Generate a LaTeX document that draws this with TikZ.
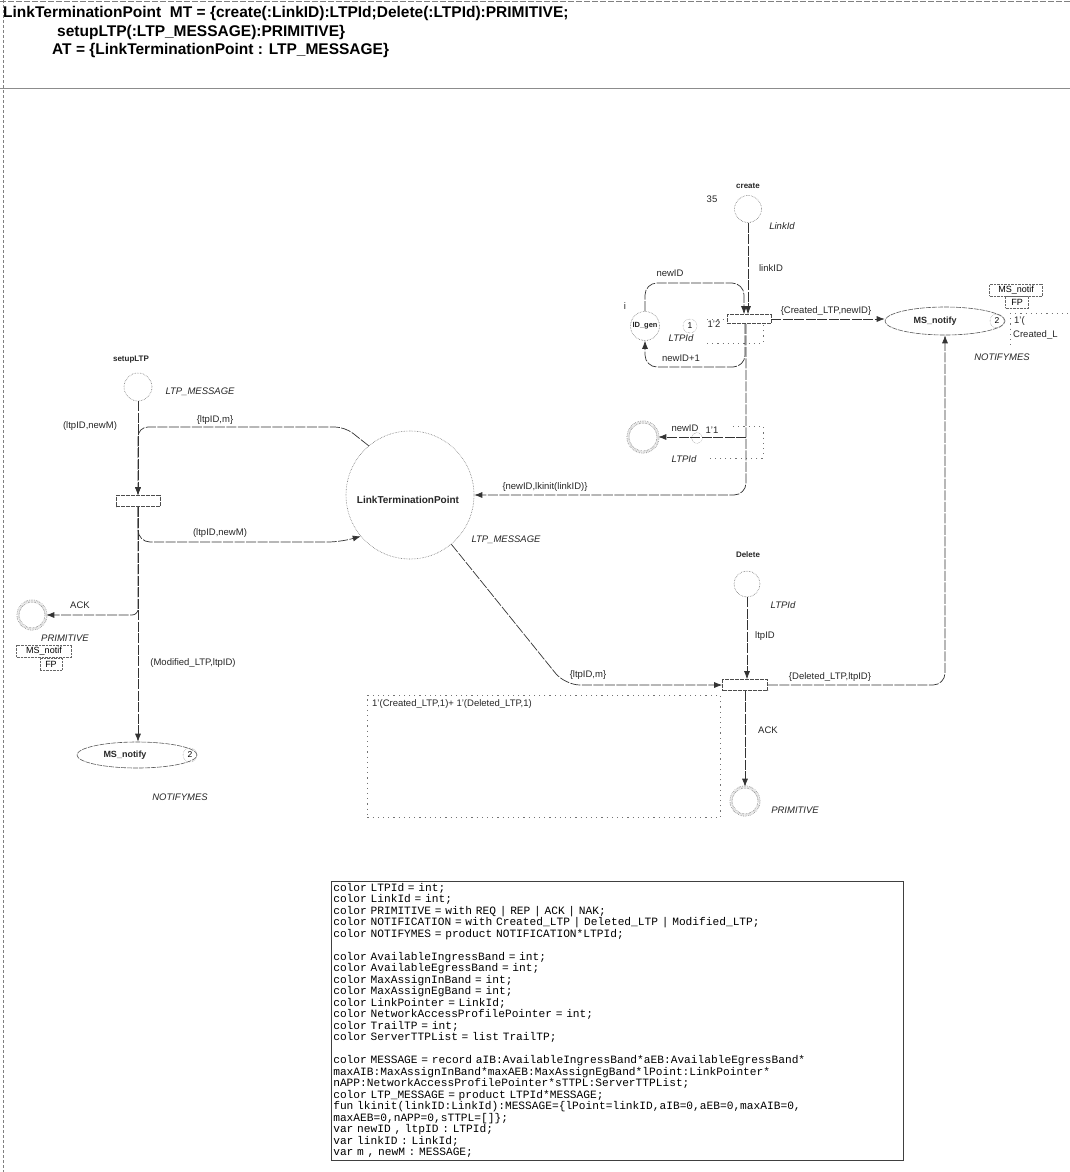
\documentclass[tikz,border=0pt]{standalone}
\usepackage{fontspec}
\setmainfont{Liberation Sans}
\setmonofont{Liberation Mono}
\usetikzlibrary{arrows.meta,shapes.geometric,calc}
\tikzset{
  lbl/.style={font=\fontsize{9.5}{10}\selectfont, inner sep=0pt, text=black!85},
  ilbl/.style={font=\fontsize{9.5}{10}\selectfont\itshape, inner sep=0pt, text=black!85},
  pname/.style={font=\fontsize{8}{9}\selectfont\bfseries, inner sep=0pt, text=black!85},
  hdr/.style={font=\fontsize{15.5}{18}\selectfont\bfseries, inner sep=0pt, anchor=west},
  place/.style={circle, draw=black!55, densely dotted, line width=0.6pt, inner sep=0pt},
  dplace/.style={place, double=white, double distance=1.6pt},
  oval/.style={ellipse, draw=black!65, dash pattern=on 5pt off 1pt, line width=0.6pt, inner sep=0pt, minimum width=120pt, minimum height=28pt},
  trans/.style={rectangle, draw=black!70, dash pattern=on 4pt off 1pt, line width=0.6pt, minimum width=44pt, minimum height=9pt, inner sep=0pt},
  arc/.style={draw=black!80, line width=0.7pt, dash pattern=on 10pt off 1.5pt, -{Latex[length=8pt,width=6pt]}},
  tok/.style={circle, draw=black!60, densely dotted, minimum size=14pt, inner sep=0pt, font=\fontsize{8.5}{9}\selectfont},
  tagbox/.style={rectangle, draw=black!60, densely dotted, inner sep=0pt, minimum height=12pt, font=\fontsize{9}{9}\selectfont},
  markline/.style={draw=black!55, dash pattern=on 1.2pt off 4pt, line width=0.8pt},
  codebox/.style={rectangle, draw=black!75, line width=0.6pt, inner sep=2pt, anchor=north west, align=left,
     text width=568pt, font=\fontsize{11.2}{11.5}\selectfont\ttfamily}
}
\begin{document}
\begin{tikzpicture}[x=1pt,y=-1pt]
\useasboundingbox (0,0) rectangle (1070,1172);
% frame lines
\draw[black!50, dash pattern=on 3pt off 2pt] (3,0) -- (3,1172);
\draw[black!50, dash pattern=on 6pt off 2pt] (0,1) -- (1070,1);
\draw[black!45, line width=0.5pt] (0,88) -- (1070,88);
% header
\node[hdr] (h1) at (3,13) {LinkTerminationPoint\ \ MT = \{create(:LinkID):LTPId;Delete(:LTPId):PRIMITIVE;};
\node[hdr] (h2) at (57,32) {setupLTP(:LTP\_MESSAGE):PRIMITIVE\}};
\node[hdr] (h3) at (52,50) {AT = \{LinkTerminationPoint : LTP\_MESSAGE\}};

% ---------- create part ----------
\node[place, minimum width=27pt, minimum height=24pt] (create) at (748,209) {};
\node[pname] (createL) at (748,186) {create};
\node[lbl] (n35) at (712,199) {35};
\node[ilbl] (createT) at (782,226) {LinkId};
\node[trans] (Tc) at (749,319) {};
\node[place, minimum size=29pt] (IDgen) at (645,326) {};
\node[lbl, font=\fontsize{7.5}{8}\selectfont\bfseries] (IDgenL) at (645,326) {ID\_gen};
\node[lbl] (IDgenI) at (625,306) {i};
\node[tok] (tok1) at (690,326) {1};
\node[lbl] (tok1m) at (714,324) {1'2};
\node[ilbl] (IDgenT) at (681,338) {LTPId};
\draw[markline] (707,319) -- (727,319);
\draw[markline] (707,343) -- (763,343) -- (763,323);

\node[oval] (MSR) at (945,321) {};
\node[lbl, font=\fontsize{9}{10}\selectfont\bfseries] (MSRL) at (935,321) {MS\_notify};
\node[tok] (tok2r) at (997,321) {2};
\node[tagbox, minimum width=53pt] (MSRtag) at (1016,290) {MS\_notif};
\node[tagbox, minimum width=23pt] (MSRfp) at (1017,302) {FP};
\node[ilbl] (MSRT) at (1002,357) {NOTIFYMES};
\node[lbl, anchor=west] (MSRm1) at (1014,321) {1'(};
\node[lbl, anchor=west] (MSRm2) at (1013,335) {Created\_L};
\draw[markline] (1010,313) -- (1070,313);
\draw[markline] (1010,313) -- (1010,347);

\node[dplace, minimum size=30pt] (newIDp) at (643,437) {};
\node[tok, minimum size=11pt] (tok3) at (697,438) {};
\node[lbl] (newIDpA) at (685,428) {newID};
\node[lbl] (newIDpM) at (712,430) {1'1};
\node[ilbl] (newIDpT) at (684,459) {LTPId};
\draw[markline] (733,426) -- (763,426) -- (763,458) -- (710,458);

% create arcs
\draw[arc] (create.south) -- (create.south |- Tc.north);
\node[lbl] (aLinkID) at (771,268) {linkID};
\coordinate (cA) at (744,283);
\draw[arc, rounded corners=12pt] (IDgen.north) |- (cA) -- (cA |- Tc.north);
\node[lbl] (aNewID) at (670,273) {newID};
\coordinate (cB) at (745,367);
\draw[arc, rounded corners=12pt] (cB |- Tc.south) -- (cB) -| (IDgen.south);
\node[lbl] (aNewID1) at (681,358) {newID+1};
\draw[arc] (Tc.east) -- (Tc.east -| MSR.west);
\node[lbl] (aCreated) at (826,311) {\{Created\_LTP,newID\}};
\coordinate (cD) at (746,437);
\draw[arc] (cD) -- (newIDp.east);
\coordinate (cC) at (746,495);

% ---------- LinkTerminationPoint ----------
\node[place, minimum size=128pt] (LTP) at (410,495) {};
\node[lbl, font=\fontsize{10}{11}\selectfont\bfseries] (LTPL) at (408,500) {LinkTerminationPoint};
\node[ilbl] (LTPT) at (506,540) {LTP\_MESSAGE};
\draw[arc, rounded corners=12pt] (cC |- Tc.south) -- (cC) -- (LTP.east);
\node[lbl] (aLkinit) at (545,487) {\{newID,lkinit(linkID)\}};

% ---------- setupLTP ----------
\node[pname] (setupL) at (131,360) {setupLTP};
\node[place, minimum size=28pt] (setup) at (138,387) {};
\node[ilbl] (setupT) at (200,392) {LTP\_MESSAGE};
\node[trans, minimum height=11pt] (Ts) at (138,501) {};
\draw[arc] (setup.south) -- (Ts.north);
\node[lbl] (aNewM1) at (90,426) {(ltpID,newM)};
\coordinate (cE) at (138,427);
\draw[arc, rounded corners=10pt] (LTP.130) -- (345,427) -- (cE) -- (Ts.north);
\node[lbl] (aM1) at (215,420) {\{ltpID,m\}};
\coordinate (cF) at (138,542);
\draw[arc, rounded corners=12pt] (Ts.south) -- (cF) -- (340,542) -- (LTP.220);
\node[lbl] (aNewM2) at (220,533) {(ltpID,newM)};

\node[dplace, minimum size=28pt] (PRIMl) at (32,615) {};
\node[ilbl] (PRIMlT) at (65,638) {PRIMITIVE};
\coordinate (cG) at (138,615);
\draw[arc, rounded corners=6pt] (Ts.south) -- (cG) -- (PRIMl.east);
\node[lbl] (aAck1) at (80,605) {ACK};

\node[oval, minimum height=26pt] (MSL) at (137,755) {};
\node[lbl, font=\fontsize{9}{10}\selectfont\bfseries] (MSLL) at (125,755) {MS\_notify};
\node[tok] (tok2l) at (190,755) {2};
\node[ilbl] (MSLT) at (180,797) {NOTIFYMES};
\node[tagbox, minimum width=55pt] (MSLtag) at (44,651) {MS\_notif};
\node[tagbox, minimum width=22pt] (MSLfp) at (51,664) {FP};
\draw[arc] (Ts.south) -- (Ts.south |- MSL.north);
\node[lbl] (aMod) at (193,663) {(Modified\_LTP,ltpID)};

% ---------- Delete ----------
\node[pname] (delL) at (748,555) {Delete};
\node[place, minimum size=26pt] (del) at (747,584) {};
\node[ilbl] (delT) at (783,605) {LTPId};
\node[trans, minimum width=45pt, minimum height=11pt] (Td) at (745,685) {};
\draw[arc] (del.south) -- (del.south |- Td.north);
\node[lbl] (aLtpID) at (765,636) {ltpID};
\coordinate (cH) at (565,685);
\draw[arc, rounded corners=15pt] (LTP.-50) -- (cH) -- (Td.west);
\node[lbl] (aM2) at (588,675) {\{ltpID,m\}};
\coordinate (cI) at (945,685);
\draw[arc, rounded corners=12pt] (Td.east) -- (cI) -- (MSR.south);
\node[lbl] (aDel) at (830,677) {\{Deleted\_LTP,ltpID\}};
\node[dplace, minimum size=28pt] (PRIMr) at (745,801) {};
\node[ilbl] (PRIMrT) at (795,810) {PRIMITIVE};
\draw[arc] (Td.south) -- (PRIMr.north);
\node[lbl] (aAck2) at (768,730) {ACK};

% marking box of LinkTerminationPoint
\node[rectangle, draw=black!55, dash pattern=on 1.2pt off 4pt, line width=0.8pt, minimum width=353pt, minimum height=122pt, anchor=north west, inner sep=0pt] (ltpmark) at (367,695) {};
\node[lbl, anchor=north west] (ltpmarkT) at (372,699) {1'(Created\_LTP,1)+ 1'(Deleted\_LTP,1)};

% ---------- declarations ----------
\node[codebox] (code) at (331,881) {%
color LTPId = int;\\
color LinkId = int;\\
color PRIMITIVE = with REQ | REP | ACK | NAK;\\
color NOTIFICATION = with Created\_LTP | Deleted\_LTP | Modified\_LTP;\\
color NOTIFYMES = product NOTIFICATION*LTPId;\\
~\\
color AvailableIngressBand = int;\\
color AvailableEgressBand = int;\\
color MaxAssignInBand = int;\\
color MaxAssignEgBand = int;\\
color LinkPointer = LinkId;\\
color NetworkAccessProfilePointer = int;\\
color TrailTP = int;\\
color ServerTTPList = list TrailTP;\\
~\\
color MESSAGE = record aIB:AvailableIngressBand*aEB:AvailableEgressBand*\\
maxAIB:MaxAssignInBand*maxAEB:MaxAssignEgBand*lPoint:LinkPointer*\\
nAPP:NetworkAccessProfilePointer*sTTPL:ServerTTPList;\\
color LTP\_MESSAGE = product LTPId*MESSAGE;\\
fun lkinit(linkID:LinkId):MESSAGE=\{lPoint=linkID,aIB=0,aEB=0,maxAIB=0,\\
maxAEB=0,nAPP=0,sTTPL=[]\};\\
var newID , ltpID : LTPId;\\
var linkID : LinkId;\\
var m , newM : MESSAGE;};
\end{tikzpicture}
\end{document}
